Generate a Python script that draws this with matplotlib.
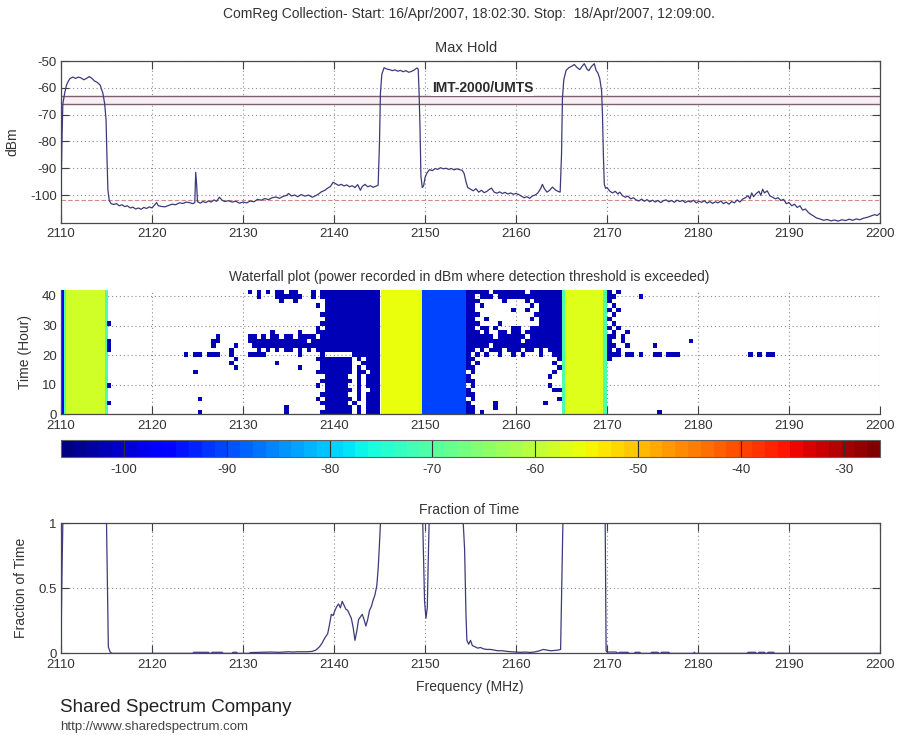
import numpy as np
import matplotlib
matplotlib.use('Agg')
import matplotlib.pyplot as plt
from matplotlib.colors import Normalize
from matplotlib.cm import ScalarMappable

plt.rcParams['font.family'] = ['Liberation Sans', 'DejaVu Sans']
plt.rcParams['axes.unicode_minus'] = False

# ---- max hold trace (MHz, dBm) ----
mh_freq = [2110.0, 2110.1, 2110.2, 2110.4, 2110.6, 2110.8, 2111.0, 2111.3, 2111.6, 2111.9,
           2112.2, 2112.5, 2112.8, 2113.1, 2113.4, 2113.7, 2114.0, 2114.3, 2114.6, 2114.8,
           2114.95, 2115.05, 2115.15, 2115.3, 2115.5, 2115.8, 2116.1, 2116.4, 2116.7, 2117.0,
           2117.3, 2117.6, 2117.9, 2118.2, 2118.5, 2118.8, 2119.1, 2119.4, 2119.7, 2120.0,
           2120.3, 2120.5, 2120.7, 2121.0, 2121.4, 2121.8, 2122.2, 2122.6, 2123.0, 2123.4,
           2123.8, 2124.2, 2124.5, 2124.7, 2124.8, 2124.9, 2125.0, 2125.3, 2125.6, 2125.9,
           2126.2, 2126.5, 2126.8, 2127.1, 2127.4, 2127.7, 2128.0, 2128.4, 2128.8, 2129.2,
           2129.6, 2130.0, 2130.4, 2130.8, 2131.2, 2131.6, 2132.0, 2132.4, 2132.8, 2133.2,
           2133.6, 2134.0, 2134.4, 2134.8, 2135.0, 2135.3, 2135.7, 2136.0, 2136.4, 2136.8,
           2137.2, 2137.6, 2138.0, 2138.3, 2138.6, 2139.0, 2139.3, 2139.6, 2139.9, 2140.2,
           2140.5, 2140.8, 2141.1, 2141.4, 2141.7, 2142.0, 2142.3, 2142.6, 2142.9, 2143.1,
           2143.4, 2143.7, 2144.0, 2144.3, 2144.6, 2144.85, 2145.0, 2145.1, 2145.25, 2145.5,
           2145.8, 2146.1, 2146.4, 2146.7, 2147.0, 2147.3, 2147.6, 2147.9, 2148.2, 2148.5,
           2148.8, 2149.1, 2149.25, 2149.35, 2149.45, 2149.55, 2149.7, 2149.85, 2150.0, 2150.2,
           2150.5, 2150.8, 2151.1, 2151.4, 2151.7, 2152.0, 2152.3, 2152.6, 2152.9, 2153.2,
           2153.5, 2153.8, 2154.1, 2154.3, 2154.5, 2154.7, 2155.0, 2155.3, 2155.6, 2155.9,
           2156.2, 2156.5, 2156.8, 2157.1, 2157.3, 2157.6, 2157.9, 2158.2, 2158.5, 2158.8,
           2159.1, 2159.4, 2159.7, 2160.0, 2160.3, 2160.6, 2160.9, 2161.2, 2161.5, 2161.8,
           2162.1, 2162.4, 2162.7, 2162.9, 2163.1, 2163.4, 2163.7, 2164.0, 2164.3, 2164.6,
           2164.85, 2165.0, 2165.1, 2165.25, 2165.5, 2165.8, 2166.1, 2166.4, 2166.7, 2167.0,
           2167.3, 2167.5, 2167.8, 2168.0, 2168.3, 2168.6, 2168.8, 2169.0, 2169.2, 2169.4,
           2169.5, 2169.6, 2169.7, 2169.85, 2170.0, 2170.3, 2170.6, 2170.9, 2171.2, 2171.4,
           2171.7, 2172.0, 2172.3, 2172.6, 2172.9, 2173.2, 2173.5, 2173.8, 2174.1, 2174.4,
           2174.7, 2175.0, 2175.3, 2175.6, 2175.9, 2176.2, 2176.5, 2176.8, 2177.1, 2177.4,
           2177.7, 2178.0, 2178.3, 2178.6, 2178.9, 2179.2, 2179.5, 2179.8, 2180.1, 2180.4,
           2180.7, 2181.0, 2181.3, 2181.6, 2181.9, 2182.2, 2182.5, 2182.8, 2183.1, 2183.4,
           2183.7, 2184.0, 2184.3, 2184.6, 2184.9, 2185.2, 2185.5, 2185.7, 2185.9, 2186.1,
           2186.4, 2186.7, 2186.9, 2187.1, 2187.3, 2187.6, 2187.9, 2188.2, 2188.5, 2188.8,
           2189.1, 2189.4, 2189.7, 2190.0, 2190.3, 2190.6, 2190.9, 2191.2, 2191.5, 2191.8,
           2192.1, 2192.4, 2192.7, 2193.0, 2193.4, 2193.8, 2194.2, 2194.6, 2195.0, 2195.4,
           2195.8, 2196.2, 2196.6, 2197.0, 2197.4, 2197.8, 2198.2, 2198.6, 2199.0, 2199.4,
           2199.7, 2200.0]
mh_dbm = [-100, -80, -66, -62, -59, -57.5, -56.5, -56, -56.5, -56,
          -56.3, -57, -56.5, -55.8, -56.5, -57.5, -58, -59, -62, -66,
          -72, -86, -98, -102, -103.2, -103.5, -103.2, -104, -103.6, -104.3,
          -104, -104.8, -104.5, -105.2, -104.8, -105.3, -104.6, -105, -104.4, -104.8,
          -103.6, -102.8, -104, -104.2, -104.4, -103.9, -103.4, -103.6, -102.9, -103.1,
          -102.6, -102.9, -103.2, -102.8, -91.5, -96, -102.5, -103, -102.4, -102.8,
          -102.2, -102.6, -101.8, -102.3, -100.8, -101.9, -102.4, -102.1, -102.6, -102.3,
          -103.0, -102.6, -102.9, -102.2, -102.5, -101.6, -101.9, -101.3, -101.7, -101.0,
          -100.7, -101.2, -100.5, -100.1, -99.4, -100.3, -100.0, -100.6, -99.8, -100.4,
          -100.0, -100.8, -100.2, -99.6, -98.8, -98.2, -97.4, -96.8, -95.2, -95.8,
          -96.4, -96.0, -96.6, -96.2, -96.9, -96.5, -97.2, -96.1, -98.2, -96.8,
          -96.0, -96.9, -96.5, -97.1, -96.7, -96.3, -80, -62, -55, -52.5,
          -53.0, -53.2, -53.6, -53.3, -53.8, -53.5, -54.0, -53.6, -54.2, -53.9,
          -53.4, -52.6, -53, -62, -75, -93, -97.2, -96.5, -93.5, -91.8,
          -90.5, -90.9, -90.1, -90.4, -89.8, -90.2, -90.0, -90.4, -90.1, -90.6,
          -90.2, -90.5, -90.8, -92, -95, -97.2, -97.8, -98.4, -97.6, -98.9,
          -98.2, -99.1, -98.6, -97.8, -97.4, -98.9, -99.3, -98.8, -99.4, -99.0,
          -99.6, -99.2, -99.7, -99.4, -99.8, -100.4, -101.0, -100.6, -101.2, -100.3,
          -100.0, -99.2, -97.6, -96.0, -97.5, -98.9, -98.2, -97.0, -98.0, -98.6,
          -98.9, -85, -64, -57, -53.5, -52.5, -52.0, -51.3, -52.4, -53.2,
          -51.8, -51.0, -53.0, -53.6, -52.0, -51.0, -53.5, -54.5, -56.5, -61,
          -70, -85, -96, -97.5, -97.2, -98.5, -99.2, -98.6, -99.6, -98.9,
          -100.2, -100.8, -100.4, -101.4, -101.0, -101.8, -102.2, -101.5, -102.3, -101.7,
          -102.5, -101.9, -102.6, -102.0, -102.8, -102.1, -101.8, -102.5, -102.0, -102.7,
          -101.9, -102.4, -102.0, -102.8, -102.2, -102.6, -101.9, -102.9, -102.3, -102.7,
          -102.1, -103.0, -102.4, -103.1, -102.5, -102.9, -102.2, -103.2, -102.6, -103.4,
          -102.4, -102.9, -101.8, -102.6, -101.5, -101.0, -100.2, -101.4, -99.2, -100.6,
          -99.4, -98.6, -100.1, -97.8, -99.2, -98.4, -100.3, -100.8, -101.4, -101.0,
          -102.0, -101.6, -103.2, -102.8, -104.0, -103.4, -104.6, -104.0, -105.6, -105.2,
          -106.4, -107.2, -107.8, -108.5, -108.9, -109.4, -109.1, -109.6, -109.3, -109.7,
          -109.2, -109.5, -109.0, -109.4, -108.9, -109.2, -108.6, -108.3, -107.8, -107.3,
          -107.6, -106.8]

imt_lines = [-63.0, -66.2]     # IMT-2000/UMTS marker lines (dBm)
threshold = -102.0             # detection threshold (dBm)

# ---- fraction of time above threshold ----
ft_freq = [2110.0, 2110.1, 2110.2, 2115.0, 2115.1, 2115.2, 2115.4, 2115.6, 2124.5, 2124.6,
           2126.2, 2126.3, 2126.5, 2126.6, 2127.7, 2127.8, 2128.8, 2128.9, 2129.3, 2129.4,
           2130.7, 2130.8, 2132.0, 2133.0, 2134.0, 2135.0, 2135.5, 2136.0, 2137.0, 2137.6,
           2138.0, 2138.4, 2138.7, 2139.0, 2139.3, 2139.5, 2139.7, 2139.9, 2140.1, 2140.3,
           2140.5, 2140.7, 2140.9, 2141.1, 2141.3, 2141.5, 2141.7, 2141.9, 2142.1, 2142.3,
           2142.5, 2142.7, 2142.9, 2143.1, 2143.3, 2143.5, 2143.7, 2143.9, 2144.1, 2144.3,
           2144.5, 2144.7, 2144.85, 2145.0, 2145.1, 2149.75, 2149.85, 2149.95, 2150.1, 2150.25,
           2150.35, 2150.45, 2154.2, 2154.35, 2154.5, 2154.6, 2154.8, 2155.0, 2155.2, 2155.5,
           2155.8, 2156.1, 2156.4, 2156.8, 2157.2, 2157.6, 2158.0, 2158.5, 2159.0, 2159.5,
           2160.0, 2160.5, 2161.0, 2161.5, 2162.0, 2162.5, 2163.0, 2163.4, 2163.8, 2164.2,
           2164.6, 2164.9, 2165.05, 2165.15, 2169.8, 2169.85, 2169.9, 2170.0, 2171.0, 2171.2,
           2171.4, 2172.3, 2172.4, 2173.0, 2173.1, 2173.6, 2173.7, 2174.8, 2174.9, 2175.6,
           2175.7, 2175.9, 2176.0, 2176.8, 2176.9, 2179.5, 2179.6, 2179.7, 2185.4, 2185.5,
           2186.3, 2186.4, 2186.6, 2186.7, 2187.3, 2187.4, 2187.6, 2187.7, 2188.3, 2188.4,
           2200.0]
ft_frac = [0.05, 0.6, 1.0, 1.0, 0.5, 0.05, 0.01, 0.0, 0.0, 0.008,
           0.008, 0.0, 0.0, 0.008, 0.008, 0.0, 0.0, 0.008, 0.008, 0.0,
           0.0, 0.006, 0.008, 0.01, 0.008, 0.012, 0.01, 0.012, 0.012, 0.015,
           0.025, 0.05, 0.08, 0.12, 0.15, 0.22, 0.3, 0.29, 0.33, 0.36,
           0.38, 0.35, 0.4, 0.37, 0.34, 0.33, 0.3, 0.27, 0.2, 0.1,
           0.17, 0.26, 0.28, 0.3, 0.26, 0.21, 0.26, 0.33, 0.36, 0.41,
           0.45, 0.52, 0.65, 0.85, 1.0, 1.0, 0.7, 0.4, 0.27, 0.35,
           0.7, 1.0, 1.0, 0.8, 0.3, 0.1, 0.07, 0.1, 0.06, 0.05,
           0.04, 0.045, 0.035, 0.03, 0.03, 0.025, 0.02, 0.02, 0.015, 0.012,
           0.01, 0.008, 0.01, 0.007, 0.01, 0.018, 0.03, 0.025, 0.02, 0.022,
           0.025, 0.03, 0.6, 1.0, 1.0, 0.5, 0.02, 0.01, 0.01, 0.0,
           0.008, 0.008, 0.0, 0.0, 0.008, 0.008, 0.0, 0.0, 0.008, 0.008,
           0.0, 0.0, 0.008, 0.008, 0.0, 0.0, 0.008, 0.0, 0.0, 0.008,
           0.008, 0.0, 0.0, 0.008, 0.008, 0.0, 0.0, 0.008, 0.008, 0.0,
           0.0]

# ---- waterfall: bands occupied for the whole 42 hours ----
band_lo = [2110.0, 2110.3, 2110.6, 2114.85, 2145.2, 2149.7, 2165.0, 2165.35, 2169.6]
band_hi = [2110.3, 2110.6, 2114.85, 2115.15, 2149.7, 2154.45, 2165.35, 2169.6, 2169.95]
band_dbm = [-95, -71, -58, -71, -55.5, -91, -71, -56.5, -71]

# ---- waterfall: detections just above threshold, 0.5 MHz x 1.5 h cells from 2115 MHz ----
# top row = 40.5-42 h, bottom row = 0-1.5 h; '|' every 10 cells (5 MHz) for reading only
speckle_f0, speckle_df, speckle_dh, speckle_dbm = 2115.0, 0.5, 1.5, -102.0
speckle_rows = [
    "..........|..........|..........|.#.#.#.##.|##...#.###|##########|..........|.........#|####.#####|##.#######|..........|#.#.......|..........|..........|..........",
    "..........|..........|..........|...#...###|###..#.###|##########|..........|.........#|#.###.####|##########|..........|##.....#..|..........|..........|..........",
    "..........|..........|..........|........#.|.#......##|##########|..........|.........#|##.....#..|..#.######|..........|#.........|..........|..........|..........",
    "..........|..........|..........|..........|......#.##|##########|..........|.........#|#.#.......|...#.#####|..........|.#........|..........|..........|..........",
    "..........|..........|..........|..........|........##|##########|..........|.........#|#........#|..#..#####|..........|#.#.......|..........|..........|..........",
    "..........|..........|..........|..........|.......###|##########|..........|.........#|##........|....######|..........|.#........|..........|..........|..........",
    "..........|..........|..........|..........|........##|##########|..........|.........#|#..#......|...#.#####|..........|#.........|..........|..........|..........",
    "#.........|..........|..........|..........|.......###|##########|..........|.........#|##....#...|.....#####|..........|.#........|..........|..........|..........",
    "..........|..........|..........|..........|......#.##|##########|..........|.........#|#.##.#...#|#..#######|..........|#.#.......|..........|..........|..........",
    "..........|..........|..........|......#...|..#...####|##########|..........|.........#|##.#..##.#|#.########|..........|.#..#.....|..........|..........|..........",
    "..........|..........|....#.....|.##.#.##.#|#.####.###|##########|..........|.........#|#####.####|##.#######|..........|##.#......|..........|..........|..........",
    "#.........|..........|...##.....|.#########|####.#####|##########|..........|.........#|##########|#.########|..........|#..#......|........#.|..........|..........",
    "#.........|..........|...#....#.|..########|##########|##########|..........|.........#|####.#####|##########|..........|##..#.....|#.........|..........|..........",
    "#.........|..........|.......#..|...#.#.#.#|#.#.#.####|##########|..........|.........#|#.#.###.##|#.##.#.###|..........|#.#.......|..........|..........|..........",
    "..........|.......#.#|#.###..#..|.####.....|..#....#..|....######|..........|.........#|.#.#..#..#|.#...#..##|..........|###.##.#..|##.###....|..........|.#.#.##...",
    "..........|..........|........#.|..........|......####|####.#.###|..........|.........#|#.........|.........#|..........|#.........|..........|..........|..........",
    "..........|..........|.......#..|.......#..|.......###|####..####|..........|.........#|.#........|........#.|..........|..........|..........|..........|..........",
    "..........|..........|........#.|..........|..#....###|####.#.###|..........|.........#|#.........|.........#|..........|..........|..........|..........|..........",
    "..........|.........#|..........|..........|......####|####.##.##|..........|..........|#.........|........#.|..........|..........|..........|..........|..........",
    "..........|..........|..........|..........|........##|###..#.###|..........|.........#|..........|.......#..|..........|..........|..........|..........|..........",
    "..........|..........|..........|..........|.......###|####.#.###|..........|.........#|#.........|..........|..........|..........|..........|..........|..........",
    "#.........|..........|..........|..........|......#.##|###..#.###|..........|..........|#.........|.......#..|..........|..........|..........|..........|..........",
    "..........|..........|..........|..........|........##|####.#..##|..........|.........#|..........|........##|..........|..........|..........|..........|..........",
    "..........|..........|..........|..........|.......###|###..#.###|..........|.........#|#.........|..........|..........|..........|..........|..........|..........",
    "..........|..........|#.........|..........|......#.##|####.#.###|..........|..........|#.........|.........#|..........|..........|..........|..........|..........",
    "#.........|..........|..........|..........|.......###|###.#..###|..........|.........#|.....#....|......#...|..........|..........|..........|..........|..........",
    "..........|..........|..........|.........#|........##|####.#.###|..........|.........#|#....#....|..........|..........|..........|..........|..........|..........",
    "..........|..........|#.........|.........#|.......###|####.#.###|..........|.........#|#.#.......|..........|..........|..........|.#........|..........|..........",
]

cbar_min, cbar_max = -106.1, -26.5
cbar_ticks = [-100, -90, -80, -70, -60, -50, -40, -30]
freq_ticks = list(range(2110, 2201, 10))

title_main = 'ComReg Collection- Start: 16/Apr/2007, 18:02:30. Stop:  18/Apr/2007, 12:09:00.'

txt = '#333333'
trace = '#3b3b7a'
cmap = plt.get_cmap('jet', 64)
norm = Normalize(cbar_min, cbar_max)


def frame(ax, box=True):
    ax.set_xlim(2110, 2200)
    ax.set_xticks(freq_ticks)
    ax.grid(True, color='#8c8c8c', linestyle=(0, (1, 2.5)), linewidth=0.8)
    ax.set_axisbelow(True)
    ax.tick_params(direction='in', length=6, width=0.8, color='#404040',
                   labelcolor=txt, labelsize=9.5, top=box, right=box)
    ax.tick_params(axis='x', pad=4)
    ax.tick_params(axis='y', pad=3)
    for sp in ax.spines.values():
        sp.set_color('#4a4a4a')
        sp.set_linewidth(0.9)
    if not box:
        ax.spines['top'].set_visible(False)
        ax.spines['right'].set_visible(False)


fig = plt.figure(figsize=(9, 7.35), dpi=100)
fig.patch.set_facecolor('white')

# Max hold
ax1 = fig.add_axes([0.0678, 0.697, 0.91, 0.22])
frame(ax1)
ax1.axhspan(imt_lines[1], imt_lines[0], color='#f7eff2', lw=0, zorder=1)
for y in imt_lines:
    ax1.axhline(y, color='#7d5f72', lw=1.0, zorder=2)
ax1.axhline(threshold, color='#d08a8a', lw=0.8, ls=(0, (4, 2)), zorder=2)
ax1.plot(mh_freq, mh_dbm, color=trace, lw=0.9, zorder=3)
ax1.text(2156.3, -60.0, 'IMT-2000/UMTS', ha='center', va='center', fontsize=10,
         fontweight='bold', color='#2a2a2a', zorder=4,
         bbox=dict(facecolor='white', edgecolor='none', pad=0.5))
ax1.set_ylim(-110.3, -50)
ax1.set_yticks([-100, -90, -80, -70, -60, -50])
ax1.set_ylabel('dBm', fontsize=10, color=txt)
ax1.yaxis.set_label_coords(-0.051, 0.5)

# Waterfall
ax2 = fig.add_axes([0.0678, 0.4363, 0.91, 0.1691])
frame(ax2, box=False)
for lo, hi, lv in zip(band_lo, band_hi, band_dbm):
    ax2.pcolormesh([lo, hi], [0, 42], [[lv]], cmap=cmap, norm=norm, zorder=1)
rows = [r.replace('|', '') for r in speckle_rows]
grid = np.array([[c == '#' for c in r] for r in rows[::-1]])
vals = np.ma.masked_where(~grid, np.full(grid.shape, speckle_dbm))
xe = speckle_f0 + speckle_df * np.arange(grid.shape[1] + 1)
ye = speckle_dh * np.arange(grid.shape[0] + 1)
ax2.pcolormesh(xe, ye, vals, cmap=cmap, norm=norm, zorder=1, antialiased=False)
ax2.set_xlim(2110, 2200)
ax2.set_ylim(0, 42)
ax2.set_yticks([0, 10, 20, 30, 40])
ax2.set_ylabel('Time (Hour)', fontsize=10, color=txt)
ax2.yaxis.set_label_coords(-0.035, 0.5)

# Colour bar
cax = fig.add_axes([0.0678, 0.3786, 0.91, 0.0227])
cb = fig.colorbar(ScalarMappable(norm=norm, cmap=cmap), cax=cax,
                  orientation='horizontal', ticks=cbar_ticks)
cb.outline.set_edgecolor('#606060')
cb.outline.set_linewidth(0.8)
for t in cbar_ticks:
    cax.axvline(t, color='#303030', lw=0.8)
cax.tick_params(length=0, labelsize=9.5, labelcolor=txt, pad=5)

# Fraction of time
ax3 = fig.add_axes([0.0678, 0.1111, 0.91, 0.1769])
frame(ax3)
ax3.plot(ft_freq, ft_frac, color=trace, lw=0.9, zorder=3)
ax3.set_ylim(0, 1)
ax3.set_yticks([0, 0.5, 1])
ax3.set_yticklabels(['0', '0.5', '1'])
ax3.set_ylabel('Fraction of Time', fontsize=10, color=txt)
ax3.yaxis.set_label_coords(-0.04, 0.5)

# Titles and footer
fig.text(469 / 900, 1 - 14 / 735, title_main, ha='center', va='center', fontsize=10, color=txt)
fig.text(0.518, 1 - 48 / 735, 'Max Hold', ha='center', va='center', fontsize=10.5, color=txt)
fig.text(0.5215, 1 - 277 / 735,
         'Waterfall plot (power recorded in dBm where detection threshold is exceeded)',
         ha='center', va='center', fontsize=10, color=txt)
fig.text(0.5215, 1 - 510 / 735, 'Fraction of Time', ha='center', va='center', fontsize=10, color=txt)
fig.text(0.5215, 1 - 687 / 735, 'Frequency (MHz)', ha='center', va='center', fontsize=10, color=txt)
fig.text(60 / 900, 1 - 707 / 735, 'Shared Spectrum Company', ha='left', va='center',
         fontsize=13.5, color='#222222')
fig.text(60 / 900, 1 - 727 / 735, 'http://www.sharedspectrum.com', ha='left', va='center',
         fontsize=9.5, color='#444444')

fig.savefig('out.png', dpi=100, facecolor='white')
